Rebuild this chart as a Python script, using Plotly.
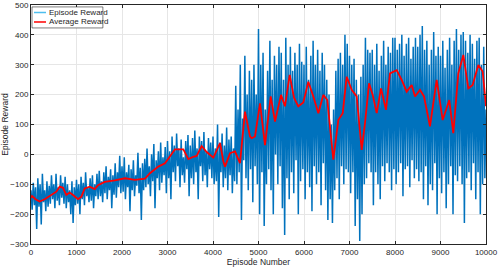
import plotly.graph_objects as go

# Episode reward samples (every 25 episodes)
episode_step = 25
episode_reward = [
    -120, -185, -95, -170, -110, -250, -80, -175, -100, -235, -65, -160, -120, -190, -90, -175, -105, -165, -70, -150,
    -100, -180, -65, -155, -110, -170, -70, -145, -95, -165, -75, -180, -100, -160, -120, -200, -90, -230, -110, -170,
    -85, -165, -100, -200, -75, -150, -95, -170, -60, -140, -110, -160, -80, -155, -70, -180, -100, -140, -65, -150,
    -55, -140, -90, -160, -60, -130, -40, -150, -75, -120, -50, -180, -70, -135, -30, -145, -60, -110, -5, -130,
    -40, -125, -10, -150, -60, -110, -35, -190, -50, -120, -20, -140, -70, -105, 5, -130, -45, -220, -30, -120,
    -15, -110, 20, -100, -40, -140, 0, -90, 35, -180, -20, -80, 10, -120, 40, -95, -10, -70, 25, -130,
    45, -80, 10, -150, 60, -60, 30, -90, 70, -40, 20, -110, 50, -70, -10, -95, 45, -50, 65, -140,
    30, -80, 55, -100, 80, -60, 20, -150, 60, -40, 45, -90, 75, -70, 10, -110, 55, -50, 40, -80,
    60, -100, 20, -90, 100, -210, 40, -60, 70, -110, 30, -80, 90, -120, 50, -70, 60, -130, 20, -90,
    230, -100, 150, -60, 300, -220, 120, -20, 330, -80, 200, -120, 280, -50, 250, -160, 300, -40, 200, -100,
    420, -200, 300, -60, 340, -240, 150, -100, 280, -50, 380, -120, 250, -200, 330, 0, 300, -100, 360, -40,
    340, -180, 250, -270, 390, -80, 300, -150, 360, -60, 280, -130, 340, -20, 300, -200, 370, -90, 310, -50,
    300, -150, 360, -60, 250, -110, 330, -190, 380, -40, 300, -100, 350, -60, 280, -170, 340, -30, 300, -120,
    250, -220, 200, -150, 100, -230, 150, -120, 280, -80, 320, -150, 340, -40, 300, -100, 400, -50, 370, -60,
    330, -130, 300, -60, 320, -240, 250, -150, 200, -290, 260, -200, 300, -100, 390, -80, 350, -30, 340, -60,
    350, -170, 300, -60, 370, -100, 280, -150, 330, -40, 380, -90, 300, -30, 360, -60, 340, -120, 390, -50,
    390, -100, 350, -60, 370, -30, 400, -140, 330, -50, 370, -40, 390, -110, 320, -20, 360, -80, 390, -50,
    360, -90, 400, -60, 430, -150, 350, -40, 380, -170, 300, -100, 350, -120, 410, -30, 330, -200, 360, -80,
    330, -130, 380, -60, 290, -180, 350, -100, 390, -40, 300, -200, 380, -70, 420, -90, 350, -40, 400, -100,
    410, -230, 380, -80, 340, -60, 400, -120, 370, -30, 320, -150, 380, -60, 390, -200, 300, -100, 360, -80,
    150,
]
episodes = [i * episode_step for i in range(len(episode_reward))]

# Average reward curve
avg_episodes = [0, 22, 100, 190, 300, 447, 557, 630, 703, 777, 850, 923, 1033, 1106,
                1180, 1290, 1400, 1473, 1620, 1840, 2066, 2286, 2505, 2615, 2798, 2945,
                3055, 3165, 3348, 3458, 3568, 3640, 3751, 3861, 4008, 4154, 4227, 4264,
                4374, 4484, 4593, 4703, 4813, 4850, 4923, 5033, 5143, 5268, 5363, 5495,
                5582, 5685, 5780, 5875, 5985, 6095, 6205, 6315, 6424, 6512, 6644, 6754,
                6851, 6938, 7048, 7158, 7268, 7341, 7429, 7510, 7598, 7692, 7802, 7890,
                8037, 8147, 8257, 8367, 8440, 8549, 8637, 8769, 8916, 9048, 9193, 9281,
                9391, 9502, 9611, 9707, 9831, 9927, 10000]
avg_reward = [-146, -139, -150, -158, -150, -136, -125, -108, -112, -136, -128, -136, -150, -142,
              -114, -108, -116, -103, -92, -87, -80, -85, -81, -63, -41, -30,
              -8, 17, 17, -16, -8, -5, 28, 8, -11, 38, -23, -41,
              4, 10, -29, 143, 60, 54, 60, 171, 31, 194, 110, 199,
              161, 266, 190, 161, 174, 243, 194, 138, 199, 182, -18, 115,
              138, 260, 216, 194, 15, 105, 238, 199, 138, 221, 149, 271,
              282, 249, 210, 232, 194, 216, 194, 94, 249, 115, 182, 71,
              271, 333, 221, 232, 299, 277, 161]

x_ticks = [0, 1000, 2000, 3000, 4000, 5000, 6000, 7000, 8000, 9000, 10000]
x_tick_labels = ["0", "1000", "2000", "3000", "4000", "5000", "6000", "7000", "8000", "9000", "10000"]
y_ticks = [-300, -200, -100, 0, 100, 200, 300, 400, 500]
series_names = ["Episode Reward", "Average Reward"]
series_colors = ["#0072BD", "#FF0000"]
legend_colors = ["#4DBEEE", "#FF0000"]

fig = go.Figure()
fig.add_trace(go.Scatter(x=episodes, y=episode_reward, mode="lines",
                         name=series_names[0], showlegend=False,
                         line=dict(color=series_colors[0], width=1.5, simplify=False)))
fig.add_trace(go.Scatter(x=avg_episodes, y=avg_reward, mode="lines",
                         name=series_names[1], showlegend=False,
                         line=dict(color=series_colors[1], width=1.8)))

# MATLAB-style compact legend box (top-left)
fig.add_shape(type="rect", xref="paper", yref="paper", x0=0.0022, x1=0.158, y0=0.904, y1=0.992,
              line=dict(color="#262626", width=0.6), fillcolor="white", layer="above")
for name, col, yy in zip(series_names, legend_colors, [0.9686, 0.9289]):
    fig.add_shape(type="line", xref="paper", yref="paper", x0=0.0066, x1=0.033, y0=yy, y1=yy,
                  line=dict(color=col, width=1.5), layer="above")
    fig.add_annotation(xref="paper", yref="paper", x=0.036, y=yy, text=name, showarrow=False,
                       xanchor="left", yanchor="middle",
                       font=dict(family="Liberation Sans, Arial", size=8, color="#262626"))

axis_common = dict(showline=True, linecolor="#262626", linewidth=1, mirror="ticks",
                   ticks="inside", ticklen=3, tickcolor="#262626",
                   showgrid=True, gridcolor="#E6E6E6", gridwidth=1, zeroline=False,
                   automargin=False,
                   tickfont=dict(family="Liberation Sans, Arial", size=8, color="#262626"))

fig.update_layout(
    width=498, height=269,
    margin=dict(l=31, r=12, t=5, b=25),
    paper_bgcolor="white", plot_bgcolor="white",
    font=dict(family="Liberation Sans, Arial", size=8, color="#262626"),
    showlegend=False,
    xaxis=dict(range=[0, 10000], tickvals=x_ticks, ticktext=x_tick_labels,
               title=dict(text="Episode Number", standoff=0,
                          font=dict(size=8.5, color="#262626")),
               **axis_common),
    yaxis=dict(range=[-300, 500], tickvals=y_ticks,
               title=dict(text="Episode Reward", standoff=0,
                          font=dict(size=8.5, color="#262626")),
               **axis_common),
)

fig.write_html("out.html", config={"displayModeBar": False},
               post_script="document.body.style.margin='0';")
